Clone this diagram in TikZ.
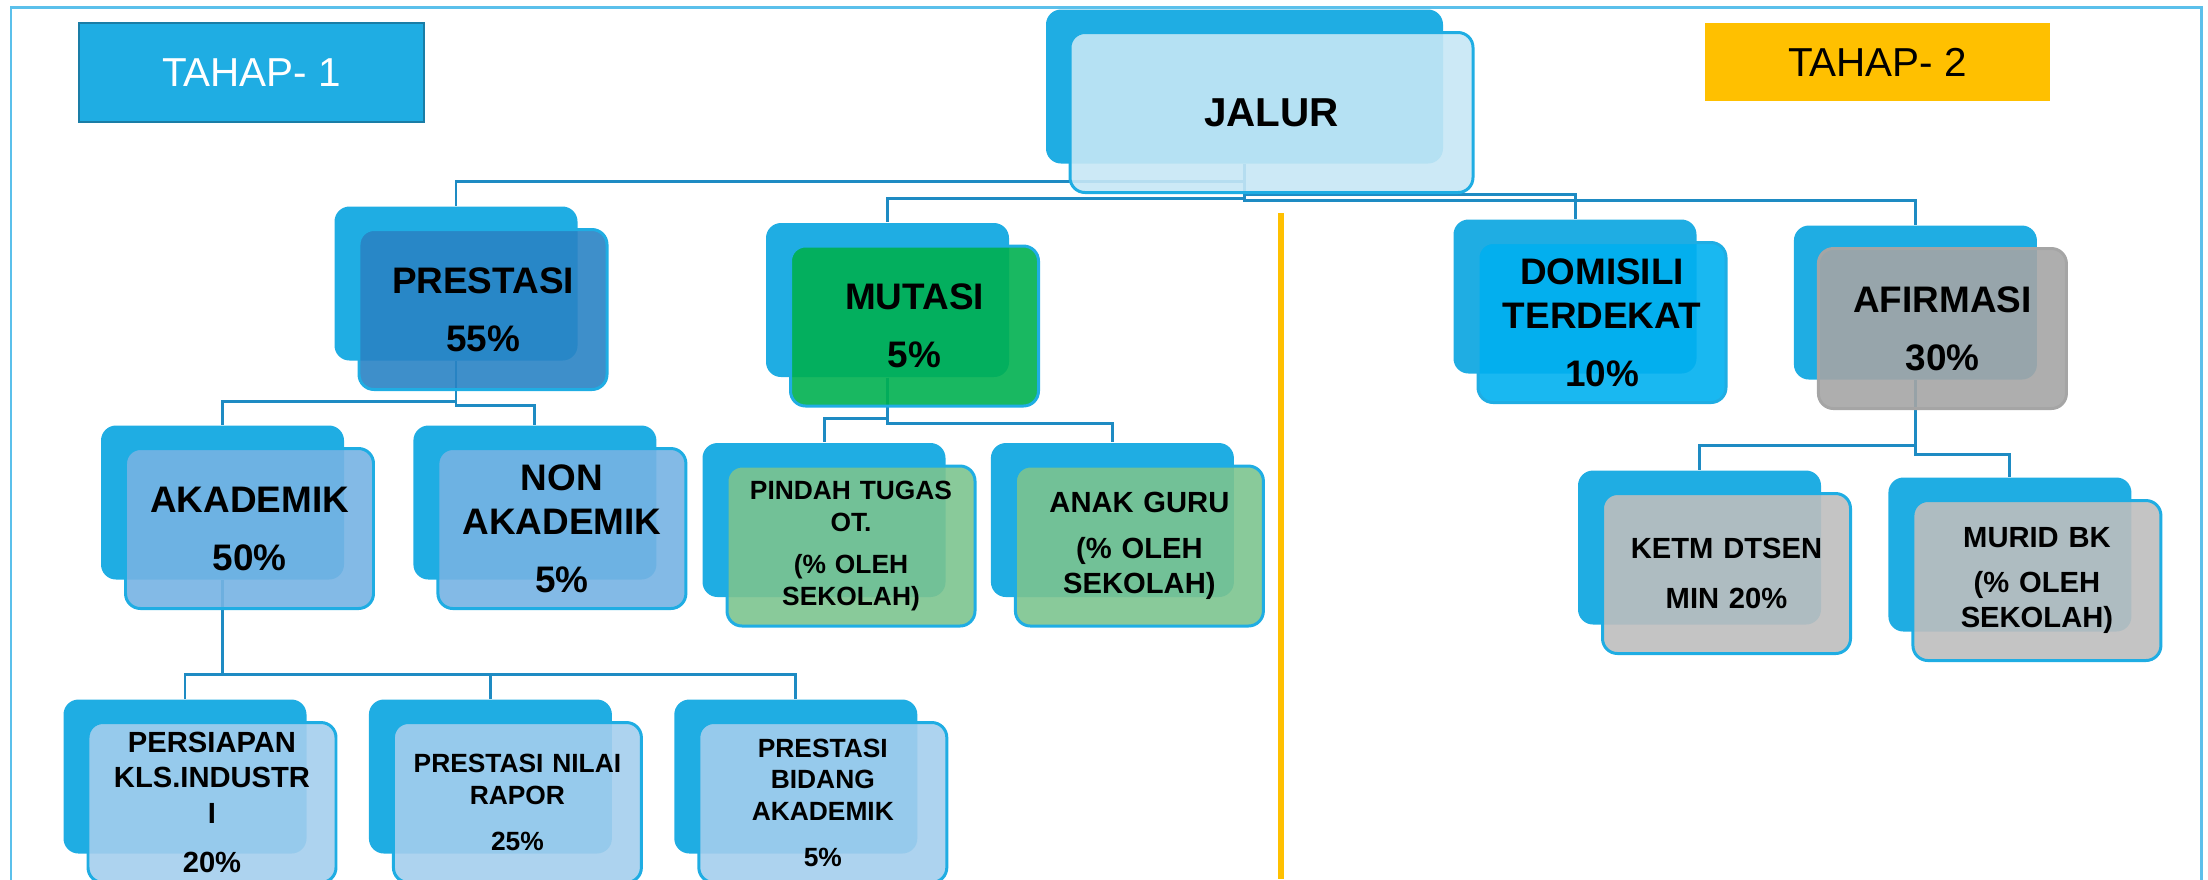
\documentclass[tikz,border=0pt]{standalone}
\usepackage{fontspec}
\setmainfont{Liberation Sans}
\usetikzlibrary{positioning}
\definecolor{boxblue}{RGB}{31,173,227}
\definecolor{linkblue}{RGB}{30,139,195}
\definecolor{framecol}{RGB}{91,192,235}
\definecolor{tahapborder}{RGB}{26,125,166}
\definecolor{tahapyellow}{RGB}{255,192,0}
\definecolor{jalurfill}{RGB}{198,231,245}
\definecolor{prestasifill}{RGB}{41,131,196}
\definecolor{mutasifill}{RGB}{0,176,80}
\definecolor{domisilifill}{RGB}{0,176,240}
\definecolor{afirmasifill}{RGB}{165,165,165}
\definecolor{akademikfill}{RGB}{118,179,227}
\definecolor{mutasisubfill}{RGB}{124,196,143}
\definecolor{subfill}{RGB}{164,206,237}
\definecolor{greyfill}{RGB}{190,190,190}
\pgfdeclarelayer{bg}
\pgfsetlayers{bg,main}

\begin{document}
\begin{tikzpicture}[backbox/.style = {fill=boxblue, rounded corners=0.15cm, minimum width=2.43cm, minimum height=1.54cm, inner sep=0pt},
	frontbox/.style = {draw=boxblue, line width=0.85pt, rounded corners=0.15cm, minimum width=2.48cm, minimum height=1.6cm, text width=2.3cm, inner xsep=0.09cm, inner ysep=0pt, align=center, fill opacity=0.9, text opacity=1, xshift=0.27cm, yshift=-0.26cm},
	bigtxt/.style = {font=\bfseries\fontsize{10.5}{12.5}\selectfont},
	midtxt/.style = {font=\bfseries\fontsize{8.3}{10}\selectfont},
	smalltxt/.style = {font=\bfseries\fontsize{7.5}{9}\selectfont},
	link/.style = {draw=linkblue, line width=0.85pt},
	tahap/.style = {minimum width=3.45cm, font=\fontsize{11.5}{14}\selectfont}]
		\useasboundingbox (0,0) rectangle (22.08,-8.79);
		\draw[framecol, line width=0.85pt] (0.11,-0.07) rectangle (22.01,-9.2);
		\node[tahap, fill=boxblue, draw=tahapborder, line width=0.6pt, text=white, minimum height=0.99cm] (tahap1) at (2.515,-0.725) {TAHAP- 1};
		\node[tahap, fill=tahapyellow, minimum height=0.78cm] (tahap2) at (18.775,-0.62) {TAHAP- 2};
		\draw[tahapyellow, line width=1.7pt] (12.81,-2.13) -- (12.81,-8.79);

		% top
		\node[backbox, minimum width=3.97cm] (jalur-b) at (12.445,-0.865) {};
		\node[frontbox, fill=jalurfill, minimum width=4.03cm, text width=3.85cm, font=\bfseries\fontsize{11.5}{14}\selectfont] (jalur) at (jalur-b) {JALUR};

		% tahap 1
		\node[backbox] (prestasi-b) at (4.56,-2.835) {};
		\node[frontbox, bigtxt, fill=prestasifill] (prestasi) at (prestasi-b) {PRESTASI\\[4pt]55\%};
		\node[backbox] (mutasi-b) at (8.875,-3.0) {};
		\node[frontbox, bigtxt, fill=mutasifill] (mutasi) at (mutasi-b) {MUTASI\\[4pt]5\%};

		\node[backbox] (akademik-b) at (2.225,-5.025) {};
		\node[frontbox, bigtxt, fill=akademikfill] (akademik) at (akademik-b) {AKADEMIK\\[4pt]50\%};
		\node[backbox] (nonakademik-b) [right=0.68cm of akademik-b] {};
		\node[frontbox, bigtxt, fill=akademikfill] (nonakademik) at (nonakademik-b) {NON\\AKADEMIK\\[4pt]5\%};

		\node[backbox] (pindah-b) at (8.24,-5.2) {};
		\node[frontbox, smalltxt, fill=mutasisubfill] (pindah) at (pindah-b) {PINDAH TUGAS\\OT.\\[3pt](\% OLEH\\SEKOLAH)};
		\node[backbox] (anakguru-b) [right=0.44cm of pindah-b] {};
		\node[frontbox, midtxt, fill=mutasisubfill] (anakguru) at (anakguru-b) {ANAK GURU\\[3pt](\% OLEH\\SEKOLAH)};

		\node[backbox] (persiapan-b) at (1.85,-7.765) {};
		\node[frontbox, midtxt, fill=subfill] (persiapan) at (persiapan-b) {PERSIAPAN\\KLS.INDUSTR\\I\\[4pt]20\%};
		\node[backbox] (rapor-b) [right=0.61cm of persiapan-b] {};
		\node[frontbox, smalltxt, fill=subfill] (rapor) at (rapor-b) {PRESTASI NILAI\\RAPOR\\[4pt]25\%};
		\node[backbox] (bidang-b) [right=0.61cm of rapor-b] {};
		\node[frontbox, smalltxt, fill=subfill] (bidang) at (bidang-b) {PRESTASI\\BIDANG\\AKADEMIK\\[4pt]5\%};

		% tahap 2
		\node[backbox] (domisili-b) at (15.75,-2.965) {};
		\node[frontbox, bigtxt, fill=domisilifill] (domisili) at (domisili-b) {DOMISILI\\TERDEKAT\\[4pt]10\%};
		\node[backbox, yshift=-0.06cm] (afirmasi-b) [right=0.96cm of domisili-b] {};
		\node[frontbox, bigtxt, fill=afirmasifill, draw=afirmasifill] (afirmasi) at (afirmasi-b) {AFIRMASI\\[4pt]30\%};

		\node[backbox] (ketm-b) at (16.995,-5.475) {};
		\node[frontbox, midtxt, fill=greyfill] (ketm) at (ketm-b) {KETM DTSEN\\[4pt]MIN 20\%};
		\node[backbox, yshift=-0.07cm] (murid-b) [right=0.66cm of ketm-b] {};
		\node[frontbox, midtxt, fill=greyfill] (murid) at (murid-b) {MURID BK\\[3pt](\% OLEH\\SEKOLAH)};

		\begin{pgfonlayer}{bg}
		\draw[link] (jalur-b.south) -- ++(0,-0.17) -| (prestasi-b.north);
		\draw[link] (jalur-b.south) -- ++(0,-0.34) -| (mutasi-b.north);
		\draw[link] (jalur-b.south) -- ++(0,-0.30) -| (domisili-b.north);
		\draw[link] (jalur-b.south) -- ++(0,-0.36) -| (afirmasi-b.north);
		\draw[link] (prestasi-b.south) -- ++(0,-0.40) -| (akademik-b.north);
		\draw[link] (prestasi-b.south) -- ++(0,-0.44) -| (nonakademik-b.north);
		\draw[link] (mutasi-b.south) -- ++(0,-0.41) -| (pindah-b.north);
		\draw[link] (mutasi-b.south) -- ++(0,-0.46) -| (anakguru-b.north);
		\draw[link] (akademik-b.south) -- ++(0,-0.94) -| (persiapan-b.north);
		\draw[link] (akademik-b.south) -- ++(0,-0.94) -| (rapor-b.north);
		\draw[link] (akademik-b.south) -- ++(0,-0.94) -| (bidang-b.north);
		\draw[link] (afirmasi-b.south) -- ++(0,-0.65) -| (ketm-b.north);
		\draw[link] (afirmasi-b.south) -- ++(0,-0.74) -| (murid-b.north);
		\end{pgfonlayer}
	\end{tikzpicture}
\end{document}
